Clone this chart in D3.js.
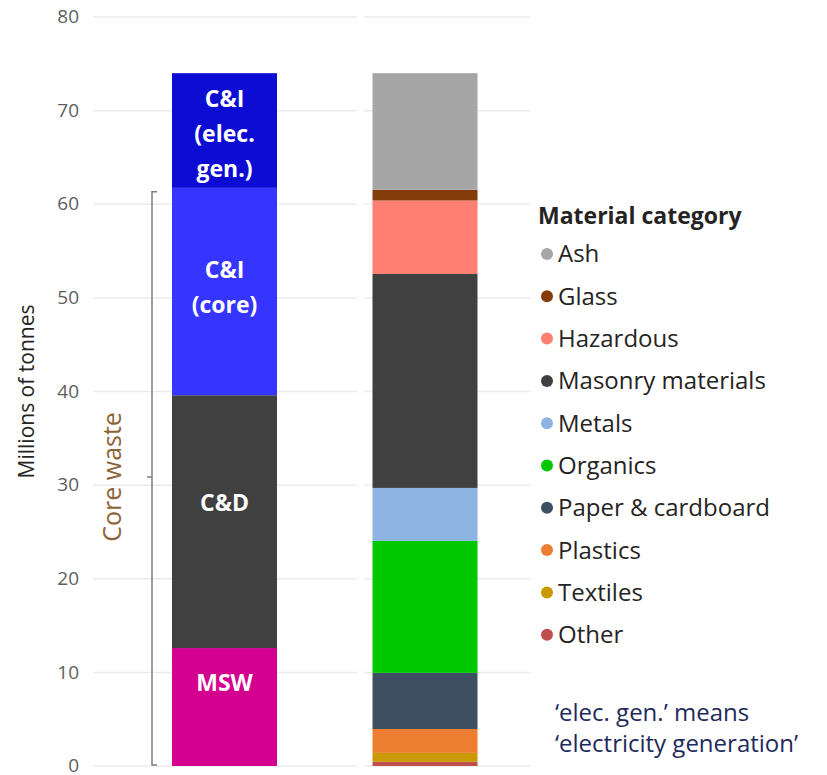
<!doctype html>
<html lang="en">
  <head>
    <meta charset="utf-8">
    <title>Waste by source and material</title>
    <style>
    body {
      margin: 0;
      background: #ffffff;
    }
    text {
      font-family: 'Open Sans', 'Noto Sans', sans-serif;
    }
    .grid line {
      stroke: #ebebeb;
      stroke-width: 1.5px;
    }
    </style>
  </head>
  <body>
    <div id="content"></div>

    <script src="https://d3js.org/d3.v7.min.js"></script>
    <script type="text/javascript">
    var w = 827;
    var h = 775;

    // data (millions of tonnes)
    var sourceCategories = ['MSW', 'C&D', 'C&I (core)', 'C&I (elec. gen.)'];
    var sourceValues = [12.6, 27.0, 22.15, 12.25];
    var sourceLabelLines = [['MSW'], ['C&D'], ['C&I', '(core)'], ['C&I', '(elec.', 'gen.)']];

    var materialCategories = ['Other', 'Textiles', 'Plastics', 'Paper & cardboard', 'Organics',
                              'Metals', 'Masonry materials', 'Hazardous', 'Glass', 'Ash'];
    var materialValues = [0.45, 0.95, 2.55, 6.0, 14.1, 5.65, 22.85, 7.85, 1.15, 12.45];

    var groups = ['Source', 'Material'];
    var yTicks = [0, 10, 20, 30, 40, 50, 60, 70, 80];
    var coreCategories = ['MSW', 'C&D', 'C&I (core)'];

    var sourceColors = ['#d4008f', '#404040', '#3535ff', '#0c0cd2'];
    var materialColors = ['#c0504d', '#c99a00', '#ed7d31', '#3f4f63', '#00c800',
                          '#8eb4e3', '#404040', '#ff7f72', '#843c0c', '#a6a6a6'];
    var labelNudge = [-24, -19, -4, 3];

    var svg = d3.select('#content')
                .append('svg')
                .attr('width', w)
                .attr('height', h);

    var yScale = d3.scaleLinear()
                   .domain([0, 80])
                   .range([766, 17]);

    var xScale = d3.scalePoint()
                   .domain(groups)
                   .range([224.5, 425]);
    var barW = 105;

    // gridlines, one block per panel
    var panelExtent = {'Source': [-131.5, 132.5], 'Material': [-61, 105]};
    groups.forEach(g => {
      svg.append('g')
        .attr('class', 'grid')
        .selectAll('line')
        .data(yTicks)
        .join('line')
        .attr('x1', xScale(g) + panelExtent[g][0])
        .attr('x2', xScale(g) + panelExtent[g][1])
        .attr('y1', d => yScale(d))
        .attr('y2', d => yScale(d));
    });

    // y axis labels
    var yAxis = d3.axisLeft(yScale)
                  .tickValues(yTicks)
                  .tickSize(0)
                  .tickPadding(0);
    var yG = svg.append('g')
                .attr('transform', 'translate(79, 0)')
                .call(yAxis);
    yG.select('.domain').remove();
    yG.selectAll('text')
      .attr('dy', '0.3em')
      .style('font-family', "'Open Sans', sans-serif")
      .style('font-size', '19px')
      .attr('fill', '#605e5c');

    svg.append('text')
      .attr('transform', `translate(34, ${(yScale(0) + yScale(80)) / 2}) rotate(-90)`)
      .attr('text-anchor', 'middle')
      .style('font-size', '21px')
      .attr('fill', '#252423')
      .text('Millions of tonnes');

    // stacked bars
    function stack(values) {
      var acc = 0;
      return values.map(v => { var s = acc; acc += v; return {y0: s, y1: acc}; });
    }

    var sourceStack = stack(sourceValues);
    var materialStack = stack(materialValues);

    svg.append('g')
      .selectAll('rect')
      .data(sourceStack)
      .join('rect')
      .attr('x', xScale('Source') - barW / 2)
      .attr('width', barW)
      .attr('y', d => yScale(d.y1))
      .attr('height', d => yScale(d.y0) - yScale(d.y1))
      .attr('fill', (d, i) => sourceColors[i]);

    svg.append('g')
      .selectAll('rect')
      .data(materialStack)
      .join('rect')
      .attr('x', xScale('Material') - barW / 2)
      .attr('width', barW)
      .attr('y', d => yScale(d.y1))
      .attr('height', d => yScale(d.y0) - yScale(d.y1))
      .attr('fill', (d, i) => materialColors[i]);

    // labels inside the source bar
    var lineH = 35;
    sourceStack.forEach((d, i) => {
      var lines = sourceLabelLines[i];
      var cy = (yScale(d.y0) + yScale(d.y1)) / 2 + labelNudge[i];
      var t = svg.append('text')
                 .attr('text-anchor', 'middle')
                 .attr('fill', '#ffffff')
                 .style('font-size', '23px')
                 .style('font-weight', 'bold');
      lines.forEach((l, j) => {
        t.append('tspan')
          .attr('x', xScale('Source'))
          .attr('y', cy + (j - (lines.length - 1) / 2) * lineH)
          .attr('dy', '0.35em')
          .text(l);
      });
    });

    // core waste bracket
    var coreTotal = d3.sum(sourceValues.filter((v, i) => coreCategories.includes(sourceCategories[i])));
    var bx = 152;
    var bTop = yScale(coreTotal) + 4;
    var bBot = yScale(0) - 1;
    var bMid = yScale(coreTotal / 2);
    svg.append('path')
      .attr('d', `M${bx + 5},${bTop} H${bx} V${bBot} H${bx + 5} M${bx},${bMid} H${bx - 5}`)
      .attr('fill', 'none')
      .attr('stroke', '#7f7f7f')
      .attr('stroke-width', 1.5);

    svg.append('text')
      .attr('transform', `translate(112, ${bMid}) rotate(-90)`)
      .attr('text-anchor', 'middle')
      .attr('dy', '0.35em')
      .style('font-size', '25px')
      .attr('fill', '#8a6436')
      .text('Core waste');

    // legend
    var legendOrder = materialCategories.slice().reverse();
    var legendColors = materialColors.slice().reverse();

    svg.append('text')
      .attr('x', 538)
      .attr('y', 216)
      .attr('dy', '0.35em')
      .style('font-size', '23px')
      .style('font-weight', 'bold')
      .attr('fill', '#252423')
      .text('Material category');

    var legend = svg.append('g')
                    .selectAll('g')
                    .data(legendOrder)
                    .join('g')
                    .attr('transform', (d, i) => `translate(547, ${254 + i * 42.3})`);

    legend.append('circle')
      .attr('r', 6)
      .attr('fill', (d, i) => legendColors[i]);

    legend.append('text')
      .attr('x', 11)
      .attr('dy', '0.35em')
      .style('font-size', '24px')
      .attr('fill', '#252423')
      .text(d => d);

    // footnote, two separate lines
    var noteLines = ['\u2018elec. gen.\u2019 means', '\u2018electricity generation\u2019'];
    svg.append('g')
      .selectAll('text')
      .data(noteLines)
      .join('text')
      .attr('x', 555)
      .attr('y', (d, i) => 713 + i * 31)
      .attr('dy', '0.35em')
      .style('font-size', '24px')
      .attr('fill', '#1f2a5c')
      .text(d => d);
    </script>
  </body>
</html>
